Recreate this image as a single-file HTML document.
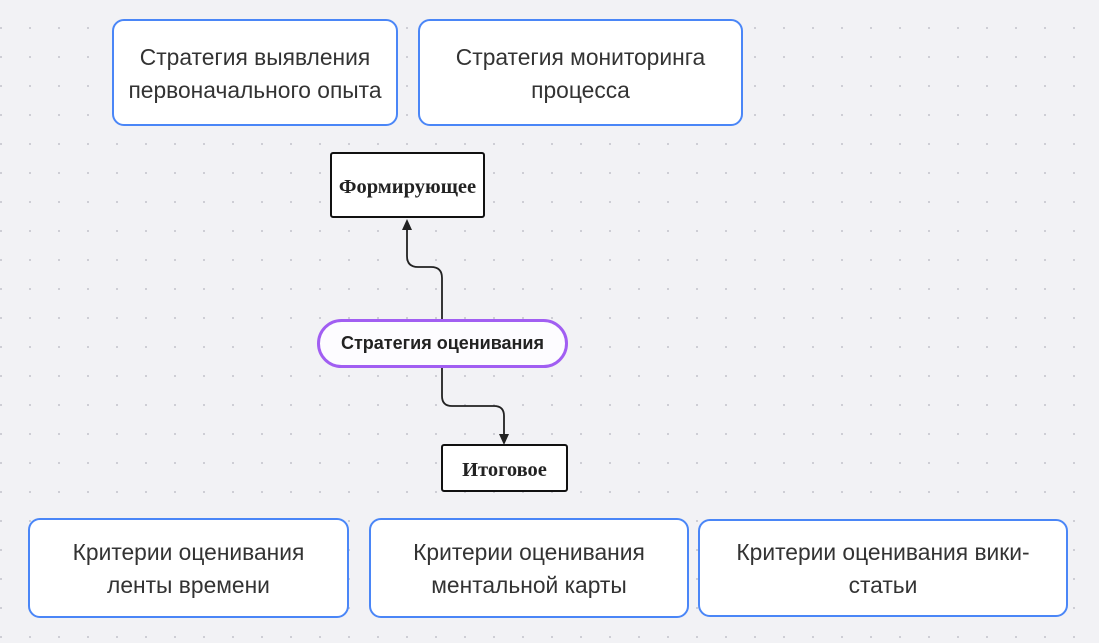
<!DOCTYPE html>
<html><head><meta charset="utf-8"><style>
html,body{margin:0;padding:0}
body{width:1099px;height:643px;position:relative;overflow:hidden;background-color:#f2f2f5;
background-image:radial-gradient(circle,#c8c8d0 0.9px,transparent 1.2px);background-size:29px 29px;background-position:15.5px 13.5px;
font-family:"Liberation Sans",sans-serif}
.b{position:absolute;box-sizing:border-box;background:#fff;border:2.5px solid #4a86f7;border-radius:12px;display:flex;align-items:center;justify-content:center;text-align:center;font-size:22.8px;line-height:33px;color:#333;padding-top:2px}
.k{position:absolute;box-sizing:border-box;background:#fff;border:2px solid #111;border-radius:3px;display:flex;align-items:center;justify-content:center;font-family:"Liberation Serif",serif;font-weight:bold;font-size:20.5px;color:#222;padding-top:5px}
.p{position:absolute;box-sizing:border-box;background:#fdfcff;border:3px solid #a15ef2;border-radius:25px;display:flex;align-items:center;justify-content:center;font-size:18px;font-weight:bold;color:#222}
</style></head><body>
<div class="b" style="left:112px;top:19px;width:286px;height:107px">Стратегия выявления<br>первоначального опыта</div>
<div class="b" style="left:418px;top:19px;width:325px;height:107px">Стратегия мониторинга<br>процесса</div>
<div class="b" style="left:28px;top:518px;width:321px;height:100px">Критерии оценивания<br>ленты времени</div>
<div class="b" style="left:369px;top:518px;width:320px;height:100px">Критерии оценивания<br>ментальной карты</div>
<div class="b" style="left:698px;top:519px;width:370px;height:98px">Критерии оценивания вики-<br>статьи</div>
<svg style="position:absolute;left:0;top:0" width="1099" height="643">
<path d="M442 320 V278 Q442 267 431 267 H418 Q407 267 407 256 V228" fill="none" stroke="#222" stroke-width="1.8"/>
<path d="M402 230 L407 219 L412 230 Z" fill="#222"/>
<path d="M442 367 V396 Q442 406 452 406 H494 Q504 406 504 416 V436" fill="none" stroke="#222" stroke-width="1.8"/>
<path d="M499 434 L504 445 L509 434 Z" fill="#222"/>
</svg>
<div class="k" style="left:330px;top:152px;width:155px;height:66px">Формирующее</div>
<div class="p" style="left:317px;top:319px;width:251px;height:49px">Стратегия оценивания</div>
<div class="k" style="left:441px;top:444px;width:127px;height:48px">Итоговое</div>
</body></html>
